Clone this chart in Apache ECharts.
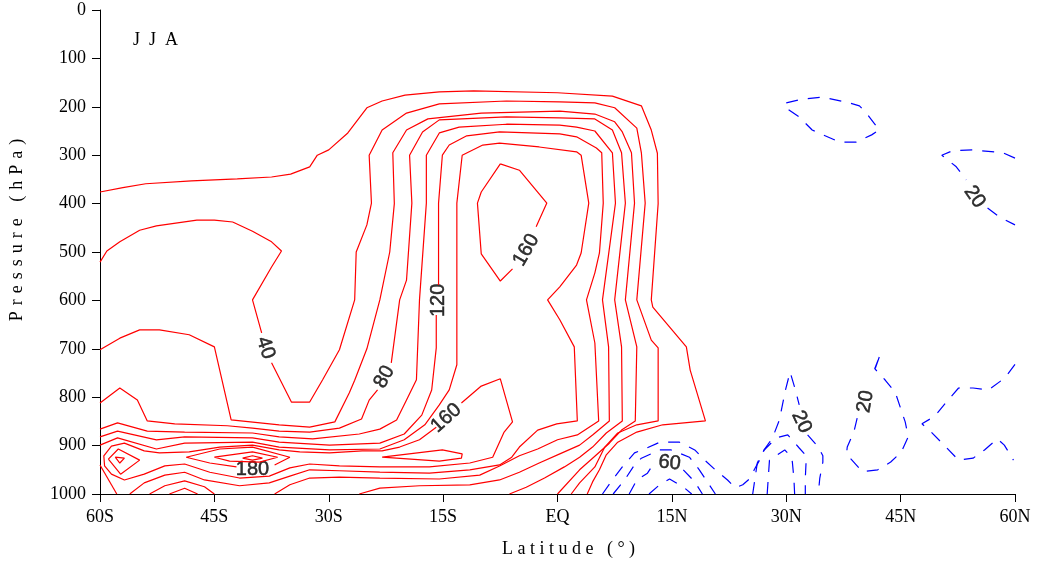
<!DOCTYPE html>
<html>
<head>
<meta charset="utf-8">
<script src="https://cdn.jsdelivr.net/npm/echarts@6/dist/echarts.min.js"></script>
<style>
html,body{margin:0;padding:0;background:#fff}
#chart{width:1037px;height:569px}
</style>
</head>
<body>
<div id="chart"></div>
<script>
// Axis tick labels
const latTickLabels = ['60S','45S','30S','15S','EQ','15N','30N','45N','60N'];

// Positive contours (solid red), points as [latitude, pressure hPa]; null = gap for a label
const c20 = [[-60,376],[-57,367],[-54,359],[-48,353],[-42,349],[-37.5,345],[-35,339],[-32.5,324],[-31.5,300],[-30,289],[-27.5,254],[-25,202],[-23,188],[-20,176],[-15.5,169],[-11,167],[0,171],[7.2,178],[11,198],[12.3,248],[13.1,296],[13.2,400],[12.3,599],[12.5,614],[16.9,696],[17.4,744],[19.4,849],[13.8,857],[10.4,872],[7.9,893],[6.4,919],[5.5,950],[4.6,975],[3.9,1000]];
const c40 = [[-60,521],[-59.1,498],[-57.4,479],[-54.8,455],[-52.6,446],[-47.3,434],[-45,434],[-42.6,438],[-40,457],[-37.5,479],[-36.2,498],[-37.5,531],[-40,599],[-38.8,667],null,[-37.5,729],[-34.9,810],[-32.5,810],[-30.8,764],[-28.6,702],[-26.6,599],[-26.4,500],[-25,444],[-24.4,399],[-24.7,300],[-23,248],[-19.8,213],[-15.5,194],[-6.7,188],[0.3,190],[4.9,192],[7.5,202],[10.4,244],[11,295],[11.5,399],[10.4,599],[12.3,682],[13.2,698],[13.2,849],[10.4,857],[7.9,874],[6.2,903],[4.9,944],[2.9,977],[1.8,1000]];
const c60 = [[-60,702],[-57.4,678],[-54.8,661],[-52.2,661],[-48.3,671],[-45,696],[-42.8,847],[-36.5,857],[-32.5,862],[-29.2,851],[-27.3,791],[-26.6,765],[-25,700],[-23.3,599],[-22,500],[-21.4,400],[-21.6,295],[-19.8,248],[-17,225],[-10,213],[0.3,209],[4.9,215],[7.5,231],[8.5,252],[9.7,295],[10.1,399],[8.9,599],[10.4,696],[10.2,849],[8.4,868],[6.8,895],[4.6,926],[2.9,950],[0.0,1000]];
const c80 = [[-60,812],[-57.4,781],[-55.1,806],[-53.8,849],[-50.2,855],[-43.3,859],[-40,864],[-36.5,870],[-32.5,872],[-28.6,864],[-25.7,845],[-24.7,806],[-23.6,785],null,[-21.8,729],[-20.7,599],[-19.8,558],[-19.1,399],[-19.4,300],[-17.7,252],[-15.5,227],[-6.7,221],[0.3,223],[4.9,225],[7.2,248],[8.4,295],[8.9,399],[7.5,599],[8.4,696],[8.5,849],[6.4,874],[4.6,903],[2.9,924],[0.9,944],[-1.7,967],[-4.1,986],[-6.3,1000]];
const c100 = [[-60,866],[-57.7,853],[-53.8,870],[-48.9,872],[-40,874],[-36.5,882],[-32.1,886],[-26,876],[-23.3,866],[-21.1,847],[-19.8,806],[-18.5,764],[-18.1,599],[-17.2,399],[-17.2,300],[-15.5,254],[-12.9,242],[-6.7,236],[0.3,238],[2.5,242],[4.9,250],[7.2,295],[7.6,399],[5.9,599],[6.7,696],[6.8,849],[4.6,878],[2.9,899],[0.3,917],[-2.4,936],[-5,955],[-7.6,971],[-11.5,981],[-18.1,983],[-23.3,988],[-26,1000]];
const c120 = [[-60,882],[-57.7,870],[-52.6,888],[-48.9,882],[-40,884],[-36.5,893],[-29.9,899],[-23.3,895],[-20.1,876],[-17.8,837],[-16.5,785],[-15.9,698],[-15.9,630],null,[-15.6,568],[-15.6,399],[-15.1,300],[-14.2,279],[-11.9,260],[-7.6,252],[0.3,256],[2.5,262],[5.1,285],[5.8,295],[6,399],[5.5,502],[4.9,543],[3.8,599],[4.9,688],[5.4,849],[2.6,878],[0,888],[-2.6,907],[-5,921],[-7.6,942],[-10.2,961],[-15.5,969],[-23.3,967],[-28.6,965],[-32.5,967],[-35.1,981],[-37.1,1000]];
const c140 = [[-60,899],[-57.7,884],[-52.6,907],[-48.9,895],[-40,893],[-36.5,903],[-29.9,909],[-23.3,907],[-20.1,888],[-17.4,857],[-15.5,816],[-14.2,785],[-13.2,733],[-13.2,558],[-13.2,399],[-12.5,300],[-9.8,279],[-7.6,275],[-2.4,283],[2.5,293],[3.1,300],[4.1,399],[3.1,502],[2.5,527],[0.3,572],[-1.3,599],[0.3,640],[2.2,696],[2.6,849],[-0.1,855],[-2.6,868],[-5,903],[-6,924],[-7.6,940],[-11.5,950],[-16.8,957],[-23.3,955],[-28.6,952],[-32.5,950],[-35.1,963],[-37.8,977],[-41.7,983],[-46.3,971],[-48.9,955],[-51.5,961],[-54.2,977],[-56.1,1000]];
const c140b = [[-60,940],[-57.8,1000]];
const c140c = [[-53.5,1000],[-51.5,983],[-48.9,973],[-46.3,985],[-45,1000]];
const c160c = [[-50.9,1000],[-48.9,988],[-47.2,1000]];
const c160a = [[-7.5,318],[-5,331],[-1.4,399],[-2.8,448],null,[-5.9,535],[-7.5,560],[-10,504],[-10.5,399],[-10,376],[-7.5,318]];
const c160b = [[-15.9,862],[-18.1,888],[-20.7,903],[-23,911],[-25.6,911],[-29.9,915],[-33.8,913],[-36.5,909],[-40,899],[-44.3,903],[-48.3,913],[-52.2,915],[-54.2,911],[-56.8,895],[-58.5,901],[-59.5,921],[-59.4,942],[-58.5,959],[-56.8,971],[-54.2,959],[-51.5,942],[-48.9,938],[-45.6,955],[-41.7,967],[-37.8,963],[-35.1,946],[-32.5,938],[-28.6,942],[-23.3,944],[-16.8,944],[-11.5,936],[-8.5,924],[-7,872],[-5.9,851],[-7.5,762],[-10,777],[-12.6,812]];
const c180a = [[-58.9,928],[-57.6,907],[-54.8,930],[-57.3,959],[-58.9,928]];
const c180b = [[-48.7,924],[-44.3,907],[-40,903],[-35.1,924],[-37.1,940],null,[-42.1,944],[-45.6,936],[-48.7,924]];
const c180c = [[-23,924],[-15.1,909],[-12.5,917],[-12.6,926],[-15.5,932],[-23,924]];
const c200a = [[-58,924],[-56.8,926],[-57.4,936],[-58,924]];
const c200b = [[-45,924],[-40,913],[-36.7,924],[-39.1,934],[-43,932],[-45,924]];
const c220b = [[-41.3,926],[-40,921],[-38.7,926],[-40,930],[-41.3,926]];

// Negative contours (dashed blue)
const n20a = [[30,192],[32.1,184],[34.8,180],[38.3,192],[39.6,198],[40.5,213],[42.2,248],[41.2,258],[39.2,273],[37,273],[33.4,248],[31.7,221],[30.2,205],[30,192]];
const n20b = [[60,306],[58.4,295],[54.4,289],[51.8,291],[50.4,300],[52.3,324],[53.6,351],null,[56.4,409],[58,428],[60,444]];
const n20c = [[5.9,1000],[7.2,971],[8.5,944],[10.1,915],[11.7,905],[13.4,893],[16,893],[18,909],[19.3,930],[20.9,953],[22.3,971],[23.3,987],[24.3,981],[25.3,967],[25.8,950],[26.5,930],[27.1,909],[28.2,884],[29.1,847],[29.5,816],[29.9,785],[30.5,748],[31.2,785],[31.7,816],null,[32.8,878],[34.2,903],[34.8,921],[34.8,934],[34.4,967],[34.2,1000]];
const n40c = [[7.3,1000],[8.8,971],[10.1,940],[11,926],[13.4,909],[14.9,909],[17.3,924],[18.6,950],[19.9,981],[20.7,1000]];
const n60c = [[9.4,1000],[10.4,971],[11.8,957],[12.5,940],null,[16.5,950],[18,975],[19,1000]];
const n80c = [[12,1000],[13.4,981],[14.7,969],[16.7,988],[17.6,1000]];
const n40d = [[25.6,1000],[26.2,936],[27.1,909],[28.7,884],[30.2,878],[31.7,905],[32.5,919],[32.6,934],[32.5,967],[32.5,1000]];
const n60d = [[27.5,1000],[27.8,930],[29.8,909],[30.7,924],[30.8,934],[31,967],[31.1,1000]];
const n20e = [[42.2,717],[41.6,744],null,[39.3,843],[38.9,870],[38,903],[37.9,917],[38.5,928],[40,954],[42,950],[43.7,934],[45.1,913],[46,882],[45.6,851],[45,823],[44.3,790],[43,765],[41.6,741],[42.2,717]];
const n20f = [[60,732],[58.7,760],[56.5,785],[54.5,781],[52.6,781],[51,810],[49.5,839],[47.8,855],[49,872],[50.7,899],[52.6,930],[54.5,926],[56,909],[57.7,886],[58.6,899],[59.8,930]];

const positive = [c20,c40,c60,c80,c100,c120,c140,c140b,c140c,c160a,c160b,c160c,c180a,c180b,c180c,c200a,c200b,c220b];
const negative = [n20a,n20b,n20c,n40c,n60c,n80c,n40d,n60d,n20e,n20f];

// Inline contour labels: [lat, pressure, text, rotation]
const contourLabels = [
  [-38.3,698,'40',-72],
  [-22.7,758,'80',62],
  [-15.6,600,'120',90],
  [-4.1,496,'160',60],
  [-14.6,843,'160',42],
  [-40,950,'180',0],
  [14.7,936,'60',-6],
  [54.7,386,'20',-55],
  [32,851,'20',-65],
  [40.4,809,'20',80]
];

const lineSeries = (d, neg) => ({
  type:'line',
  data:d.map(p => p === null ? ['-','-'] : p),
  symbol:'none',
  connectNulls:false,
  silent:true,
  animation:false,
  lineStyle:{color:neg ? '#0000ff' : '#ff0000', width:1.2, type:neg ? [12,10] : 'solid'}
});

const series = positive.map(d => lineSeries(d, false)).concat(negative.map(d => lineSeries(d, true)));

series.push({
  type:'scatter',
  symbolSize:1,
  silent:true,
  animation:false,
  itemStyle:{color:'rgba(0,0,0,0)'},
  data:contourLabels.map(l => ({
    value:[l[0],l[1]],
    label:{show:true, position:'inside', formatter:l[2], rotate:l[3],
      color:'#000', fontSize:20, fontFamily:'Liberation Sans, Arial, sans-serif',
      textBorderColor:'#000', textBorderWidth:0.5}
  }))
});

const serif = 'Liberation Serif, Times New Roman, serif';
const spaced = (s, gap) => s.split('').join(gap);

const chart = echarts.init(document.getElementById('chart'), null, {renderer:'canvas'});
chart.setOption({
  animation:false,
  backgroundColor:'#fff',
  title:{text:spaced('JJA', '\u2002'), left:128, top:26, textStyle:{fontFamily:serif, fontSize:18, fontWeight:'normal', color:'#000'}},
  grid:{left:100, right:22, top:10, bottom:75},
  xAxis:{
    type:'value', min:-60, max:60, interval:15,
    name:spaced('Latitude', '\u2005') + '\u2005 \u2005' + spaced('(°)', '\u2005'), nameLocation:'middle', nameGap:46,
    nameTextStyle:{fontFamily:serif, fontSize:18, color:'#000', padding:[0,0,0,22]},
    axisLine:{show:true, onZero:false, lineStyle:{color:'#000', width:1}},
    axisTick:{show:true, length:8, inside:false, lineStyle:{color:'#000'}},
    axisLabel:{fontFamily:serif, fontSize:18, color:'#000', margin:14,
      formatter:v => latTickLabels[Math.round((v + 60) / 15)]},
    splitLine:{show:false}
  },
  yAxis:{
    type:'value', min:0, max:1000, interval:100, inverse:true,
    name:spaced('Pressure', '\u2004') + '\u2004 \u2004' + spaced('(hPa)', '\u2004'), nameLocation:'middle', nameGap:74, nameRotate:90,
    nameTextStyle:{fontFamily:serif, fontSize:18, color:'#000', padding:[0,0,0,44]},
    axisLine:{show:true, onZero:false, lineStyle:{color:'#000', width:1}},
    axisTick:{show:true, length:8, inside:false, lineStyle:{color:'#000'}},
    axisLabel:{fontFamily:serif, fontSize:18, color:'#000', margin:14, formatter:v => String(v)},
    splitLine:{show:false}
  },
  series:series
});
</script>
</body>
</html>
